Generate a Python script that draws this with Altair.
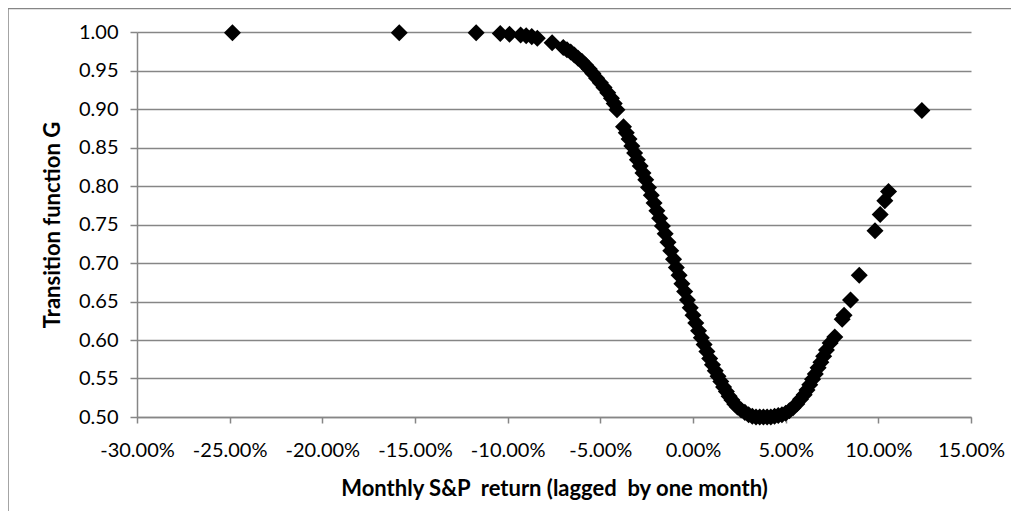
import altair as alt
import pandas as pd

# Monthly S&P return (lagged, in %) and transition function G
ret_pct = [
    -24.85, -15.85, -11.70, -10.40, -9.90, -9.30, -9.00, -8.70, -8.40, -7.60,
    -7.00, -6.80, -6.60, -6.40, -6.20, -6.00, -5.80, -5.60, -5.40, -5.20,
    -5.00, -4.80, -4.60, -4.40, -4.25, -4.10,
    -3.75, -3.60, -3.45, -3.30, -3.15, -3.00, -2.85, -2.70, -2.55, -2.40,
    -2.25, -2.10, -1.95, -1.80, -1.65, -1.50, -1.35, -1.20, -1.05, -0.90,
    -0.75, -0.60, -0.45, -0.30, -0.15, 0.00, 0.15, 0.30, 0.45, 0.60,
    0.75, 0.90, 1.05, 1.20, 1.35, 1.50, 1.65, 1.80, 1.95, 2.10,
    2.25, 2.40, 2.60, 2.80, 3.00, 3.20, 3.40, 3.60, 3.80, 4.00,
    4.20, 4.40, 4.60, 4.80, 5.00, 5.20, 5.40, 5.60, 5.80, 6.00,
    6.15, 6.30, 6.45, 6.60, 6.75, 6.90, 7.05, 7.20, 7.40, 7.65,
    8.05, 8.15, 8.50, 8.97, 9.82, 10.10, 10.35, 10.55, 12.35,
]
g_value = [
    0.999, 0.999, 0.999, 0.998, 0.997, 0.996, 0.995, 0.994, 0.992, 0.986,
    0.980, 0.977, 0.974, 0.970, 0.966, 0.962, 0.957, 0.952, 0.946, 0.940,
    0.934, 0.928, 0.921, 0.914, 0.907, 0.899,
    0.877, 0.869, 0.861, 0.852, 0.843, 0.834, 0.826, 0.817, 0.808, 0.798,
    0.788, 0.778, 0.768, 0.758, 0.748, 0.738, 0.727, 0.716, 0.705, 0.694,
    0.684, 0.673, 0.663, 0.652, 0.642, 0.632, 0.622, 0.612, 0.603, 0.594,
    0.585, 0.576, 0.568, 0.560, 0.553, 0.546, 0.539, 0.533, 0.527, 0.522,
    0.517, 0.513, 0.509, 0.506, 0.503, 0.501, 0.500, 0.500, 0.500, 0.500,
    0.500, 0.501, 0.502, 0.503, 0.505, 0.508, 0.512, 0.517, 0.523, 0.529,
    0.535, 0.542, 0.549, 0.556, 0.564, 0.571, 0.579, 0.587, 0.596, 0.604,
    0.627, 0.632, 0.652, 0.684, 0.742, 0.763, 0.781, 0.793, 0.898,
]

x_ticks = [-30, -25, -20, -15, -10, -5, 0, 5, 10, 15]
y_ticks = [0.50, 0.55, 0.60, 0.65, 0.70, 0.75, 0.80, 0.85, 0.90, 0.95, 1.00]

df = pd.DataFrame({"ret": ret_pct, "G": g_value})

FONT = "Lato"
GRAY = "#868686"
NBSP = "\u00a0"

points = alt.Chart(df).mark_point(
    shape="diamond", filled=True, color="#000000", size=290, opacity=1, strokeWidth=0
).encode(
    x=alt.X(
        "ret:Q",
        scale=alt.Scale(domain=[-30, 15], nice=False, zero=False),
        axis=alt.Axis(
            values=x_ticks,
            labelExpr="(datum.value < 0 ? '-' : '') + format(abs(datum.value), '.2f') + '%'",
            labelOverlap=False,
            labelFlush=False,
            title="Monthly S&P " + NBSP + "return (lagged " + NBSP + "by one month)",
            grid=False,
            domainColor=GRAY,
            tickColor=GRAY,
            tickSize=6,
            labelPadding=17,
            titlePadding=18,
        ),
    ),
    y=alt.Y(
        "G:Q",
        scale=alt.Scale(domain=[0.5, 1.0], nice=False, zero=False),
        axis=alt.Axis(
            values=y_ticks,
            format=".2f",
            labelOverlap=False,
            labelFlush=False,
            title="Transition function G",
            grid=True,
            gridColor=GRAY,
            domainColor=GRAY,
            tickColor=GRAY,
            tickSize=7,
            labelPadding=12,
            titlePadding=14,
        ),
    ),
)

frame = alt.Chart(pd.DataFrame({"a": [0]})).mark_rect(
    fill="white", fillOpacity=0, stroke=GRAY, strokeWidth=1.5
).encode(
    x=alt.value(-129), x2=alt.value(900), y=alt.value(-23.5), y2=alt.value(600)
)

chart = alt.layer(frame, points).properties(
    width=834,
    height=385,
    padding={"left": 129, "top": 24, "right": 40, "bottom": 94},
    autosize=alt.AutoSizeParams(type="none"),
).configure_view(strokeWidth=0).configure_axis(
    labelFont=FONT,
    titleFont=FONT,
    labelFontSize=20,
    titleFontSize=22,
    labelColor="#000000",
    titleColor="#000000",
    titleFontWeight="bold",
    domainWidth=1.5,
    gridWidth=1.5,
    tickWidth=1.5,
)

chart.save("out.html", embed_options={"renderer": "svg", "actions": False})
